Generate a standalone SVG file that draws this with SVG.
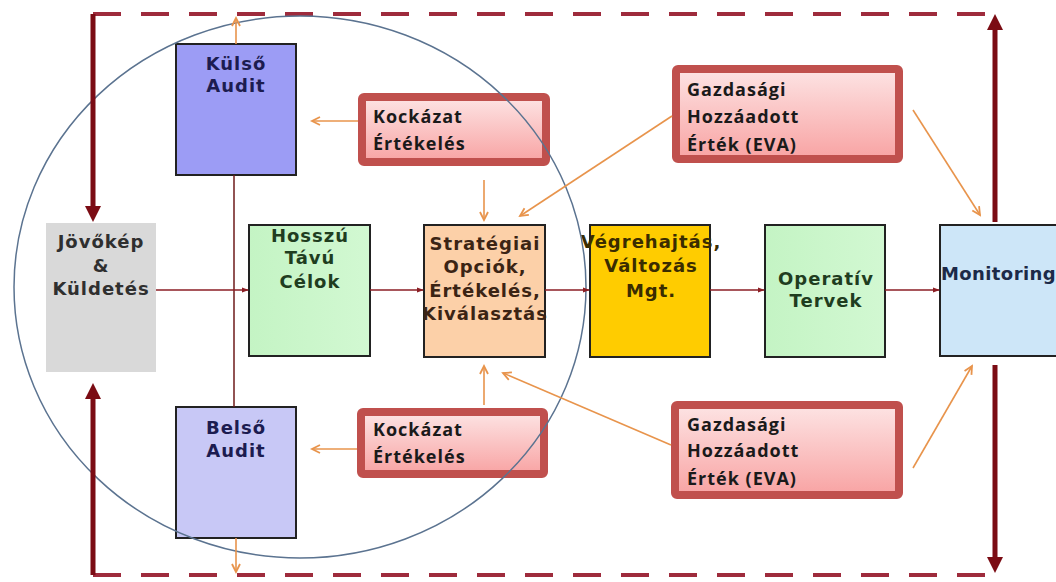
<svg xmlns="http://www.w3.org/2000/svg" width="1056" height="582" viewBox="0 0 1056 582">
<defs>
<linearGradient id="pink" x1="0" y1="0" x2="0" y2="1">
<stop offset="0" stop-color="#fde4e4"/>
<stop offset="1" stop-color="#f8a3a3"/>
</linearGradient>
<linearGradient id="green" x1="0" y1="0" x2="1" y2="0">
<stop offset="0" stop-color="#c4f4c4"/>
<stop offset="1" stop-color="#d2f8d2"/>
</linearGradient>
<marker id="big" viewBox="0 0 16 16" refX="10" refY="8" markerWidth="16" markerHeight="16" markerUnits="userSpaceOnUse" orient="auto">
<path d="M0,0 L16,8 L0,16 z" fill="#7b0c14"/>
</marker>
<marker id="open" viewBox="0 0 10 10" refX="9" refY="5" markerWidth="10" markerHeight="10" markerUnits="userSpaceOnUse" orient="auto" overflow="visible">
<path d="M1,1 L9,5 L1,9" fill="none" stroke="#e8944c" stroke-width="1.8"/>
</marker>
<marker id="small" viewBox="0 0 8 8" refX="7" refY="4" markerWidth="7" markerHeight="7" markerUnits="userSpaceOnUse" orient="auto">
<path d="M0,1 L8,4 L0,7 z" fill="#8b1e24"/>
</marker>
</defs>
<style>
.box{stroke:#222;stroke-width:2}
.t{font-family:"DejaVu Sans",Verdana,sans-serif;font-weight:bold;font-size:18px;letter-spacing:1px;text-anchor:middle}
.red{fill:url(#pink);stroke:#c0504d;stroke-width:8}
.rt{font-family:"Open Sans","Liberation Sans",sans-serif;font-weight:700;font-size:18px;letter-spacing:1px;fill:#1a1a1a}
.thick{stroke:#7b0c14;stroke-width:5;fill:none}
.dash{stroke:#9e2b3c;stroke-width:4;fill:none;stroke-dasharray:28 20}
.flow{stroke:#8b1e24;stroke-width:1.5;fill:none;marker-end:url(#small)}
.or{stroke:#e8944c;stroke-width:1.6;fill:none;marker-end:url(#open)}
.link{stroke:#6e1a1a;stroke-width:1.5;fill:none}
</style>
<rect width="1056" height="582" fill="#ffffff"/>

<g id="frame">
<line class="dash" x1="93" y1="14" x2="995" y2="14"/>
<line class="dash" x1="93" y1="575" x2="995" y2="575"/>
</g>

<g id="jovokep">
<rect x="46" y="223" width="110" height="149" fill="#d9d9d9"/>
<text class="t" fill="#2f2f2f"><tspan x="101" y="248">Jövőkép</tspan><tspan x="101" y="272">&amp;</tspan><tspan x="101" y="295">Küldetés</tspan></text>
</g>

<g id="kulso-audit">
<rect class="box" x="176" y="44" width="120" height="131" fill="#9c9cf5"/>
<text class="t" fill="#1c1c50"><tspan x="236" y="70">Külső</tspan><tspan x="236" y="92">Audit</tspan></text>
</g>

<g id="belso-audit">
<rect class="box" x="176" y="407" width="120" height="131" fill="#c8c8f6"/>
<text class="t" fill="#1c1c50"><tspan x="236" y="434">Belső</tspan><tspan x="236" y="457">Audit</tspan></text>
</g>

<g id="hosszu">
<rect class="box" x="249" y="225" width="121" height="131" fill="url(#green)"/>
<text class="t" fill="#1f3d1f"><tspan x="310" y="242">Hosszú</tspan><tspan x="310" y="264">Távú</tspan><tspan x="310" y="288">Célok</tspan></text>
</g>

<g id="strategiai">
<rect class="box" x="424" y="225" width="121" height="132" fill="#fcd0a8"/>
<text class="t" fill="#3b2414"><tspan x="485" y="250">Stratégiai</tspan><tspan x="485" y="273">Opciók,</tspan><tspan x="485" y="297">Értékelés,</tspan><tspan x="485" y="320">Kiválasztás</tspan></text>
</g>

<g id="vegrehajtas">
<rect class="box" x="590" y="225" width="120" height="132" fill="#ffcc00"/>
<text class="t" fill="#3a2c00"><tspan x="651" y="248">Végrehajtás,</tspan><tspan x="651" y="272">Változás</tspan><tspan x="651" y="297">Mgt.</tspan></text>
</g>

<g id="operativ">
<rect class="box" x="765" y="225" width="120" height="132" fill="url(#green)"/>
<text class="t" fill="#1f3d1f"><tspan x="826" y="285">Operatív</tspan><tspan x="826" y="307">Tervek</tspan></text>
</g>

<g id="monitoring">
<rect class="box" x="940" y="225" width="122" height="131" fill="#cde6f8"/>
<text class="t" fill="#1c2a48" style="text-anchor:start;letter-spacing:0.4px" x="941" y="280">Monitoring</text>
</g>

<g id="kockazat-top">
<rect class="red" x="362" y="97" width="184" height="65" rx="2"/>
<text class="rt"><tspan x="373" y="123">Kockázat</tspan><tspan x="373" y="150">Értékelés</tspan></text>
</g>

<g id="gazdasagi-top">
<rect class="red" x="676" y="69" width="223" height="90" rx="2"/>
<text class="rt"><tspan x="687" y="96">Gazdasági</tspan><tspan x="687" y="123">Hozzáadott</tspan><tspan x="687" y="151">Érték (EVA)</tspan></text>
</g>

<g id="kockazat-bottom">
<rect class="red" x="361" y="412" width="183" height="62" rx="2"/>
<text class="rt"><tspan x="373" y="436">Kockázat</tspan><tspan x="373" y="463">Értékelés</tspan></text>
</g>

<g id="gazdasagi-bottom">
<rect class="red" x="675" y="405" width="224" height="90" rx="2"/>
<text class="rt"><tspan x="687" y="431">Gazdasági</tspan><tspan x="687" y="457">Hozzáadott</tspan><tspan x="687" y="485">Érték (EVA)</tspan></text>
</g>

<g id="connectors">
<ellipse cx="300" cy="287" rx="286" ry="271" fill="none" stroke="#5b7390" stroke-width="1.5"/>
<line class="thick" x1="93" y1="14" x2="93" y2="216" marker-end="url(#big)"/>
<line class="thick" x1="93" y1="575" x2="93" y2="389" marker-end="url(#big)"/>
<line class="thick" x1="995" y1="222" x2="995" y2="20" marker-end="url(#big)"/>
<line class="thick" x1="995" y1="365" x2="995" y2="567" marker-end="url(#big)"/>
<line class="link" x1="234" y1="175" x2="234" y2="407"/>
<line class="flow" x1="156" y1="290" x2="248" y2="290"/>
<line class="flow" x1="370" y1="290" x2="423" y2="290"/>
<line class="flow" x1="545" y1="290" x2="589" y2="290"/>
<line class="flow" x1="710" y1="290" x2="764" y2="290"/>
<line class="flow" x1="885" y1="290" x2="939" y2="290"/>
<line class="or" x1="236" y1="44" x2="236" y2="18"/>
<line class="or" x1="236" y1="538" x2="236" y2="572"/>
<line class="or" x1="358" y1="121" x2="312" y2="121"/>
<line class="or" x1="484" y1="180" x2="484" y2="220"/>
<line class="or" x1="672" y1="116" x2="520" y2="216"/>
<line class="or" x1="913" y1="110" x2="980" y2="215"/>
<line class="or" x1="357" y1="449" x2="312" y2="449"/>
<line class="or" x1="484" y1="405" x2="484" y2="366"/>
<line class="or" x1="671" y1="445" x2="503" y2="373"/>
<line class="or" x1="913" y1="468" x2="972" y2="366"/>
</g>
</svg>
